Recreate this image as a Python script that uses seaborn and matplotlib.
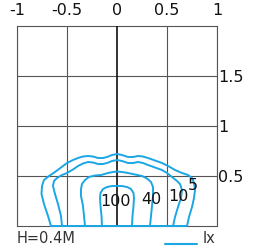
import matplotlib
matplotlib.use('Agg')
import matplotlib.pyplot as plt
import seaborn as sns
import pandas as pd
from matplotlib.lines import Line2D

# isolux contours (lx), going round each closed curve
lux_5_x = [-0.66, -0.69, -0.73, -0.755, -0.75, -0.73, -0.68, -0.62, -0.56, -0.50, -0.44, -0.39,
           -0.34, -0.29, -0.24, -0.19, -0.14, -0.10, -0.05, 0.0, 0.05, 0.11, 0.16, 0.21, 0.26,
           0.31, 0.38, 0.45, 0.52, 0.58, 0.65, 0.71, 0.75, 0.77, 0.78, 0.77, 0.75, 0.72, 0.70, -0.66]
lux_5_y = [0.0, 0.10, 0.22, 0.32, 0.40, 0.46, 0.50, 0.54, 0.585, 0.63, 0.66, 0.68,
           0.695, 0.70, 0.695, 0.68, 0.68, 0.69, 0.71, 0.72, 0.71, 0.69, 0.69, 0.70, 0.695,
           0.68, 0.655, 0.63, 0.595, 0.56, 0.53, 0.51, 0.48, 0.43, 0.36, 0.28, 0.19, 0.09, 0.0, 0.0]

lux_10_x = [-0.55, -0.56, -0.59, -0.62, -0.64, -0.63, -0.60, -0.55, -0.50, -0.44, -0.39, -0.34,
            -0.29, -0.24, -0.19, -0.14, -0.10, -0.05, 0.0, 0.05, 0.11, 0.16, 0.21, 0.26, 0.31,
            0.38, 0.45, 0.50, 0.55, 0.60, 0.63, 0.65, 0.64, 0.61, 0.58, 0.56, -0.55]
lux_10_y = [0.0, 0.10, 0.22, 0.32, 0.40, 0.45, 0.48, 0.51, 0.53, 0.565, 0.60, 0.625,
            0.64, 0.635, 0.62, 0.62, 0.63, 0.65, 0.66, 0.65, 0.63, 0.63, 0.64, 0.63, 0.61,
            0.585, 0.56, 0.53, 0.49, 0.45, 0.42, 0.36, 0.28, 0.19, 0.09, 0.0, 0.0]

lux_40_x = [-0.32, -0.33, -0.34, -0.36, -0.36, -0.35, -0.32, -0.28, -0.22, -0.16, -0.09, -0.04,
            0.0, 0.05, 0.11, 0.18, 0.25, 0.30, 0.34, 0.36, 0.36, 0.35, 0.34, 0.33, -0.32]
lux_40_y = [0.0, 0.10, 0.20, 0.30, 0.37, 0.42, 0.46, 0.49, 0.505, 0.51, 0.53, 0.54,
            0.545, 0.54, 0.53, 0.515, 0.50, 0.475, 0.44, 0.39, 0.30, 0.20, 0.10, 0.0, 0.0]

lux_100_x = [-0.15, -0.155, -0.165, -0.17, -0.165, -0.14, -0.10, -0.05, 0.0, 0.05, 0.10, 0.14,
             0.165, 0.17, 0.165, 0.155, 0.15, -0.15]
lux_100_y = [0.0, 0.10, 0.20, 0.28, 0.33, 0.37, 0.39, 0.40, 0.40, 0.40, 0.39, 0.37,
             0.33, 0.28, 0.20, 0.10, 0.0, 0.0]

levels = ['5', '10', '40', '100']
label_x = [0.755, 0.61, 0.34, -0.01]
label_y = [0.405, 0.30, 0.27, 0.25]

x_ticks = [-1, -0.5, 0, 0.5, 1]
x_labels = ['-1', '-0.5', '0', '0.5', '1']
y_ticks = [0.5, 1, 1.5]
y_labels = ['0.5', '1', '1.5']

frames = []
for lev, xs, ys in zip(levels, [lux_5_x, lux_10_x, lux_40_x, lux_100_x],
                       [lux_5_y, lux_10_y, lux_40_y, lux_100_y]):
    frames.append(pd.DataFrame({'level': lev, 'x': xs, 'y': ys}))
df = pd.concat(frames, ignore_index=True)

sns.set_style('white')
plt.rcParams['font.family'] = ['DejaVu Sans']
blue = '#1aa7e4'
grey = '#555555'
ink = '#111111'

fig = plt.figure(figsize=(2.55, 2.49), dpi=100)
ax = fig.add_axes([17 / 255, 23 / 249, 200 / 255, 200 / 249])

ax.set_xlim(-1, 1)
ax.set_ylim(0, 2)
ax.set_xticks(x_ticks)
ax.set_xticklabels(x_labels)
ax.set_yticks(y_ticks)
ax.set_yticklabels(y_labels)
ax.xaxis.tick_top()
ax.yaxis.tick_right()
ax.tick_params(axis='x', length=0, pad=5.5, labelsize=11.5, colors=ink)
ax.tick_params(axis='y', length=0, pad=0.8, labelsize=11.5, colors=ink)
ax.grid(True, color=grey, linewidth=0.8)
ax.xaxis.get_gridlines()[2].set_visible(False)
for s in ax.spines.values():
    s.set_color(grey)
    s.set_linewidth(0.8)
ax.axvline(0, color=ink, linewidth=1.2, zorder=3)

sns.lineplot(data=df, x='x', y='y', units='level', estimator=None, sort=False,
             color=blue, linewidth=1.4, ax=ax, legend=False, clip_on=False, zorder=4)
ax.set_xlabel('')
ax.set_ylabel('')

for lev, lx, ly in zip(levels, label_x, label_y):
    ax.text(lx, ly, lev, ha='center', va='center', fontsize=11.5, color=ink, zorder=5)

fig.text(17 / 255, 1 - 238 / 249, 'H=0.4M', ha='left', va='center', fontsize=10.5, color='#333333')
fig.text(203 / 255, 1 - 238 / 249, 'lx', ha='left', va='center', fontsize=10.5, color='#333333')
fig.add_artist(Line2D([165 / 255, 197 / 255], [1 - 244 / 249, 1 - 244 / 249],
                      color=blue, linewidth=1.5, transform=fig.transFigure))

fig.savefig('out.png', dpi=100)
